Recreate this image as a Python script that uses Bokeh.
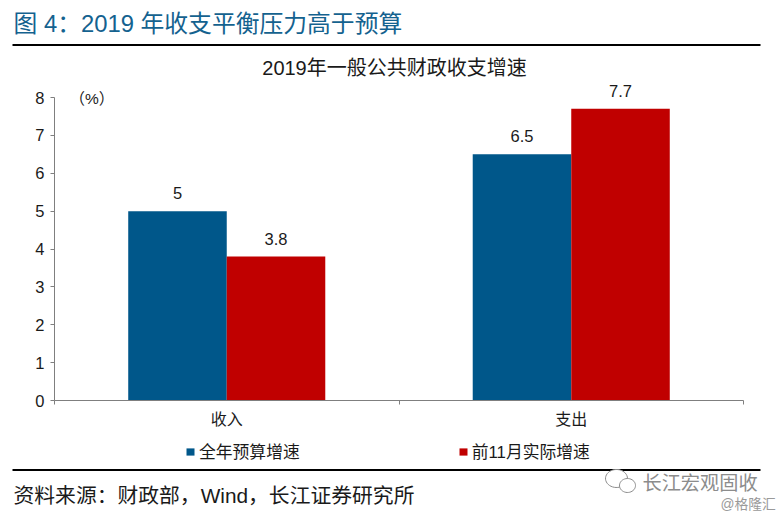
import numpy as np
from bokeh.plotting import figure
from bokeh.layouts import column
from bokeh.embed import file_html
from bokeh.resources import INLINE
from bokeh.core.properties import value
from bokeh.models import (ColumnDataSource, Range1d, LinearAxis, FixedTicker, Label,
                          Legend, LegendItem)

categories = ["收入", "支出"]
budget = [5, 6.5]
actual = [3.8, 7.7]
series_names = ["全年预算增速", "前11月实际增速"]
y_ticks = [0, 1, 2, 3, 4, 5, 6, 7, 8]

FONT = "Liberation Sans, Noto Sans CJK SC"
TXT = "#1a1a1a"
AX = "#7f7f7f"
BLUE = "#00578A"
RED = "#C00000"
GREY = "#8c8c8c"
BW = 0.286

# Layout (page px)
PAGE_W = 780
PAGE_H = 516
HEAD_H = 78
MAIN_BOTTOM = 436
FOOT_H = PAGE_H - MAIN_BOTTOM
L, R, B = 54, 743, 400
PX_PER_UNIT = 303 / 8


def decor(height, top):
    """Blank strip whose data coordinates are page pixels."""
    f = figure(width=PAGE_W, height=height, x_range=Range1d(0, PAGE_W), y_range=Range1d(top + height, top),
               x_axis_type=None, y_axis_type=None, output_backend="svg", toolbar_location=None,
               min_border=0, outline_line_color=None, frame_align=False)
    f.grid.visible = False
    return f


def put(f, t, x, y, size, color=TXT, align="left"):
    f.text(x=[x], y=[y], text=[t], text_font=value(FONT), text_font_size=size, text_color=color,
           text_align=align, text_baseline="middle")


# Header
head = decor(HEAD_H, 0)
put(head, "图 4：2019 年收支平衡压力高于预算", 13, 23, "23.8px", color="#14628F")
put(head, "2019年一般公共财政收支增速", 394, 67, "20px", align="center")
head.segment(x0=[12], x1=[760], y0=[44.5], y1=[44.5], line_color="black", line_width=2)

# Chart
n = len(categories)
centers = [i + 0.5 for i in range(n)]
src = ColumnDataSource(dict(x1=[c - BW / 2 for c in centers], x2=[c + BW / 2 for c in centers],
                            budget=budget, actual=actual,
                            lb=[str(v) for v in budget], la=[str(v) for v in actual]))

p = figure(x_range=Range1d(0, n), y_range=Range1d(0, (B - HEAD_H) / PX_PER_UNIT),
           width=PAGE_W, height=MAIN_BOTTOM - HEAD_H,
           output_backend="svg", toolbar_location=None,
           min_border_left=L, min_border_right=PAGE_W - R,
           min_border_top=0, min_border_bottom=MAIN_BOTTOM - B,
           outline_line_color=None, background_fill_color="white", border_fill_color="white",
           frame_align=False)
p.grid.visible = False

ya = p.yaxis[0]
ya.ticker = FixedTicker(ticks=y_ticks)
ya.bounds = (0, 8)
ya.axis_line_color = AX
ya.major_tick_line_color = AX
ya.major_tick_in = 0
ya.major_tick_out = 4
ya.minor_tick_line_color = None
ya.major_label_text_font = FONT
ya.major_label_text_font_size = "16.5px"
ya.major_label_text_color = TXT
ya.major_label_standoff = 6

xa = p.xaxis[0]
xa.ticker = FixedTicker(ticks=list(range(n + 1)))
xa.axis_line_color = AX
xa.major_tick_line_color = AX
xa.major_tick_in = 0
xa.major_tick_out = 4
xa.minor_tick_line_color = None
xa.major_label_overrides = {i: "" for i in range(n + 1)}
xa.major_label_standoff = 0

cat_axis = LinearAxis(ticker=FixedTicker(ticks=centers),
                      major_label_overrides={c: t for c, t in zip(centers, categories)},
                      axis_line_color=None, major_tick_line_color=None, minor_tick_line_color=None,
                      major_label_text_font=FONT, major_label_text_font_size="16px",
                      major_label_text_color=TXT, major_label_standoff=0)
p.add_layout(cat_axis, "below")

p.vbar(x="x1", top="budget", width=BW, source=src, fill_color=BLUE, line_color=None)
p.vbar(x="x2", top="actual", width=BW, source=src, fill_color=RED, line_color=None)

for xc, y, col in (("x1", "budget", "lb"), ("x2", "actual", "la")):
    p.text(x=xc, y=y, text=col, source=src, y_offset=-18,
           text_align="center", text_baseline="middle", text_font=value(FONT),
           text_font_size="16.5px", text_color=TXT)

p.add_layout(Label(x=69 - L, y=B - 98, x_units="screen", y_units="screen", text="（%）",
                   text_font=FONT, text_font_size="15.5px", text_color=TXT, text_baseline="middle"))

# Footer
foot = decor(FOOT_H, MAIN_BOTTOM)
# Legend keys: the same colours as the bars (empty glyphs only feed the legend)
k1 = foot.vbar(x=[float("nan")], top=[float("nan")], width=1, fill_color=BLUE, line_color=None)
k2 = foot.vbar(x=[float("nan")], top=[float("nan")], width=1, fill_color=RED, line_color=None)
legend = Legend(items=[LegendItem(label=series_names[0], renderers=[k1]),
                       LegendItem(label=series_names[1], renderers=[k2])],
                orientation="horizontal", location=(187 - 2, PAGE_H - 451 - 12),
                glyph_width=10, glyph_height=9, label_standoff=4, spacing=158,
                padding=2, margin=0, border_line_color=None, background_fill_alpha=0,
                label_text_font=FONT, label_text_font_size="16.8px", label_text_color=TXT)
foot.add_layout(legend)
foot.segment(x0=[12], x1=[760], y0=[469.5], y1=[469.5], line_color="black", line_width=2)
th = np.linspace(0, 2 * np.pi, 40)
for cx, cy, rx, ry in ((616, 478, 11, 9), (627, 485, 8, 7)):
    foot.patch(x=cx + rx * np.cos(th), y=cy + ry * np.sin(th), fill_color="white", line_color=GREY, line_width=1)
put(foot, "资料来源：财政部，Wind，长江证券研究所", 13, 495, "20.8px")
put(foot, "长江宏观固收", 642, 483, "19.2px", color=GREY)
put(foot, "@格隆汇", 720, 504, "13.8px", color="#9a9a9a")

page = column(head, p, foot, spacing=0)
open("out.html", "w").write(file_html(page, INLINE))
